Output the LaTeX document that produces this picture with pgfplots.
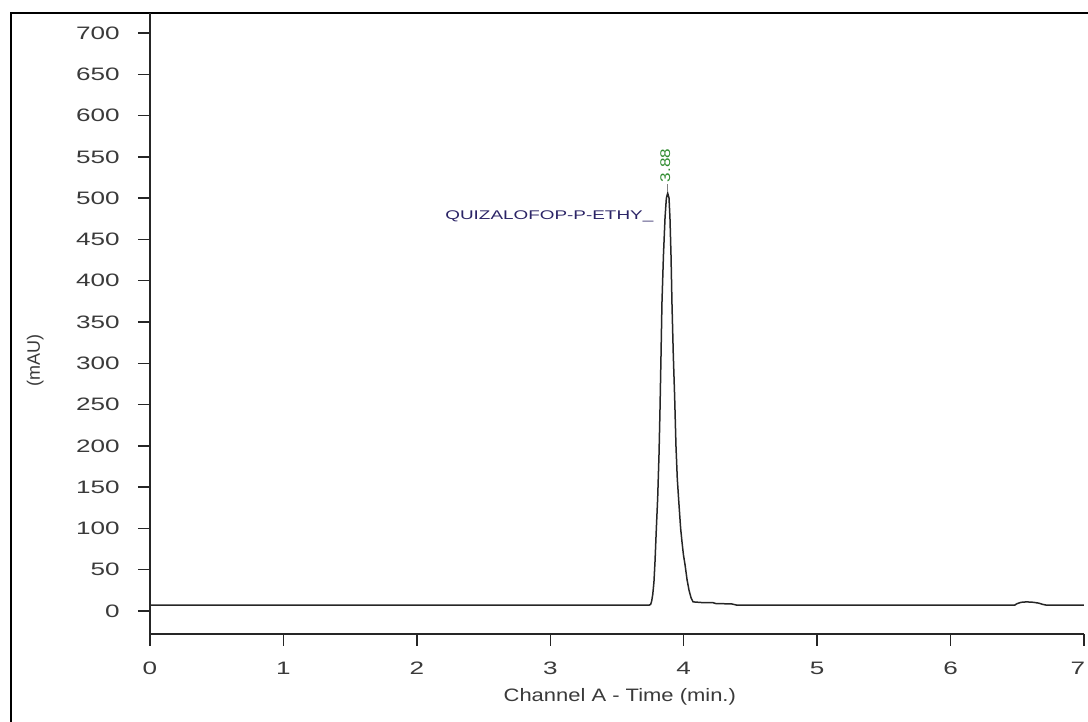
\documentclass[border=0pt]{standalone}
\usepackage{pgfplots}
\pgfplotsset{compat=1.18}
\usepackage{fontspec}
\setmainfont{Liberation Sans}
\newfontfamily\tickfont{Liberation Sans}[FakeStretch=1.45]
\newfontfamily\labfont{Liberation Sans}[FakeStretch=1.22]
\newfontfamily\annfont{Liberation Sans}[FakeStretch=1.5]
\definecolor{ticktext}{HTML}{3A3A3A}
\definecolor{peakgreen}{HTML}{2E8B2E}
\definecolor{namecol}{HTML}{2B2466}
\begin{document}
\begin{tikzpicture}
\useasboundingbox (0,0) rectangle (544pt,361pt);
\draw[line width=1pt] (5.5pt,0) -- (5.5pt,354.5pt) -- (544pt,354.5pt);
\begin{axis}[
  at={(75pt,44pt)}, anchor=south west,
  width=467pt, height=310.5pt, scale only axis,
  xmin=0, xmax=7, ymin=-27.9, ymax=724.2,
  axis lines=left, axis line style={-, line width=0.75pt, black!85},
  tick align=outside, major tick length=6pt,
  tick style={line width=0.75pt, black!85},
  xtick={0,...,7}, ytick={0,50,...,700},
  xticklabels={0,1,2,3,4,5,6,{7\kern6pt}},
  /pgf/number format/assume math mode=true,
  ticklabel style={font=\tickfont\fontsize{9}{10}\selectfont, text=ticktext},
  yticklabel style={inner sep=0pt, xshift=-9pt},
  xticklabel style={inner sep=0pt, yshift=-8pt},
  xlabel={Channel A - Time (min.)},
  xlabel style={font=\labfont\fontsize{9}{10}\selectfont, text=ticktext,
                at={(axis description cs:0.503,-0.101)}, anchor=center},
  ylabel={(mAU)},
  ylabel style={font=\fontsize{9}{10}\selectfont, text=ticktext,
                at={(axis description cs:-0.123,0.44)}, anchor=center},
]
\addplot[black!85, line width=0.75pt] coordinates {
  (0,7) (3.74,7) (3.752,8) (3.760,12) (3.768,20) (3.777,35) (3.785,60)
  (3.795,100) (3.805,137) (3.815,190) (3.822,241) (3.830,310) (3.837,373)
  (3.848,430) (3.860,476) (3.870,500) (3.880,506) (3.890,500) (3.897,476)
  (3.905,430) (3.912,373) (3.922,310) (3.932,260) (3.942,200) (3.952,160)
  (3.965,128) (3.977,100) (3.987,84) (3.998,68) (4.010,56) (4.025,38)
  (4.040,25) (4.055,16) (4.070,11) (4.150,10) (4.22,10) (4.24,9)
  (4.36,8.5) (4.40,7) (6.48,7) (6.50,9) (6.53,10.5) (6.57,11) (6.62,10.5)
  (6.66,9.5) (6.69,8) (6.72,7) (7,7)
};
\node[anchor=east, inner sep=0pt, text=namecol,
      font=\annfont\fontsize{6.3}{7}\selectfont] at (axis cs:3.775,478) {QUIZALOFOP-P-ETHY\_};
\draw[gray, line width=0.5pt] (axis cs:3.875,507) -- (axis cs:3.875,517);
\node[anchor=west, rotate=90, inner sep=0pt, text=peakgreen,
      font=\labfont\fontsize{7}{8}\selectfont] at (axis cs:3.862,519) {3.88};
\end{axis}
\end{tikzpicture}
\end{document}
